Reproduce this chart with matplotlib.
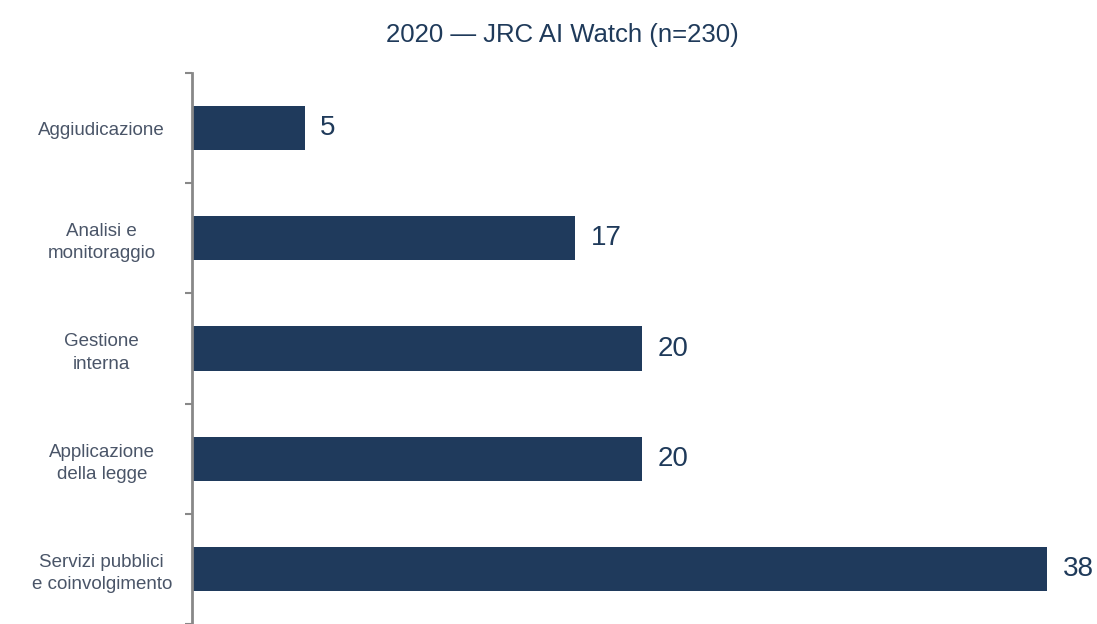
import matplotlib
matplotlib.use("Agg")
from matplotlib import pyplot
import numpy

# DATA
categories = ["Aggiudicazione", "Analisi e\nmonitoraggio", "Gestione\ninterna",
              "Applicazione\ndella legge", "Servizi pubblici\ne coinvolgimento"]
values = [5, 17, 20, 20, 38]
title = "2020 \u2014 JRC AI Watch (n=230)"

bar_color = "#1f3a5c"
text_color = "#4a5568"
navy = "#1f3a5a"

pyplot.rcParams["font.family"] = ["Liberation Sans", "DejaVu Sans"]

canvas = pyplot.figure(figsize=(10.97, 6.24), dpi=100)
axes = canvas.add_axes([192 / 1097, 0, 1 - 192 / 1097, (624 - 73) / 624])

ypos = numpy.arange(len(categories))
axes.barh(ypos, values, height=0.4, color=bar_color)
for y, v in zip(ypos, values):
    axes.text(v + 0.7, y, str(v), va="center", ha="left", fontsize=20, color=navy)

axes.set_ylim(len(categories) - 0.5, -0.5)
axes.set_xlim(0, 40.2)
axes.set_yticks(ypos)
axes.set_yticklabels(categories, fontsize=13.5, color=text_color, ha="center", linespacing=1.4)
axes.tick_params(axis="y", which="major", length=0, pad=65)
axes.set_yticks(numpy.arange(-0.5, len(categories), 1), minor=True)
axes.tick_params(axis="y", which="minor", length=5, width=1.5, color="#888888")
axes.set_xticks([])
for s in ["top", "right", "bottom"]:
    axes.spines[s].set_visible(False)
axes.spines["left"].set_color("#888888")
axes.spines["left"].set_linewidth(2)

canvas.text(562 / 1097, 1 - 35 / 624, title, ha="center", va="center", fontsize=18.5, color=navy)

pyplot.savefig("out.png", dpi=100)
